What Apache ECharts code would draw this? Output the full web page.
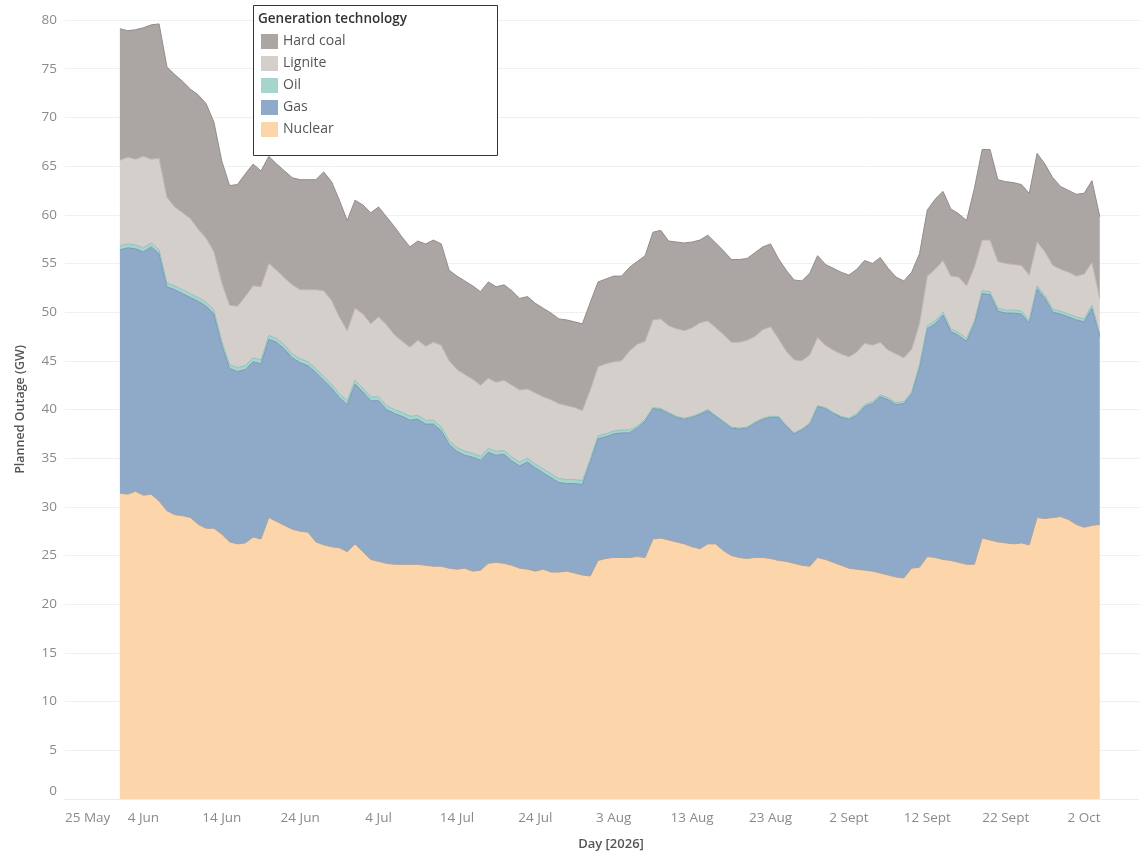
<!DOCTYPE html>
<html>
<head>
<meta charset="utf-8">
<script src="https://cdn.jsdelivr.net/npm/echarts@6/dist/echarts.min.js"></script>
<style>
  html, body { margin: 0; padding: 0; background: #ffffff; }
  #chart { width: 1139px; height: 856px; }
</style>
</head>
<body>
<div id="chart"></div>
<script>
// Axis runs daily from 25 May 2026 (index 0) to 9 Oct 2026 (index 137).
// Data is daily from 1 Jun 2026 (index 7) to 4 Oct 2026.
const axisStart = { year: 2026, month: 4, day: 25 };
const axisDays = 138;
const firstDayIndex = 7;
const monthNames = ['Jan','Feb','Mar','Apr','May','Jun','Jul','Aug','Sept','Oct','Nov','Dec'];
const seriesNames = ['Nuclear', 'Gas', 'Oil', 'Lignite', 'Hard coal'];
const legendOrder = ['Hard coal', 'Lignite', 'Oil', 'Gas', 'Nuclear'];
const yTicks = { min: 0, max: 80, interval: 5 };

const nuclear = [
  31.4,31.3,31.6,31.2,31.3,30.6,29.6,29.2,29.1,28.9,
  28.2,27.8,27.8,27.2,26.4,26.2,26.3,26.9,26.7,28.9,
  28.5,28.1,27.7,27.5,27.4,26.4,26.1,25.9,25.8,25.4,
  26.2,25.4,24.6,24.4,24.2,24.1,24.1,24.1,24.1,24.0,
  23.9,23.9,23.7,23.6,23.7,23.4,23.5,24.2,24.3,24.2,
  24.0,23.7,23.6,23.4,23.6,23.3,23.3,23.4,23.2,23.0,
  22.9,24.5,24.7,24.8,24.8,24.8,24.9,24.8,26.7,26.8,
  26.6,26.4,26.2,25.9,25.7,26.2,26.2,25.5,25.0,24.8,
  24.7,24.8,24.8,24.7,24.5,24.4,24.2,24.0,23.9,24.8,
  24.6,24.3,24.0,23.7,23.6,23.5,23.4,23.2,23.0,22.8,
  22.7,23.7,23.8,24.9,24.8,24.6,24.5,24.3,24.1,24.1,
  26.8,26.6,26.4,26.3,26.2,26.3,26.1,28.9,28.8,28.9,
  29.0,28.7,28.2,27.9,28.1,28.2
];
const gas = [
  25.0,25.3,24.9,25.0,25.4,25.4,23.0,23.1,22.8,22.6,
  22.9,22.8,22.0,19.4,17.8,17.7,17.8,18.0,18.0,18.3,
  18.4,18.1,17.6,17.3,17.1,17.4,16.9,16.3,15.4,15.1,
  16.4,16.4,16.3,16.5,15.8,15.5,15.2,14.8,14.9,14.5,
  14.6,13.9,12.7,12.1,11.6,11.7,11.3,11.4,11.0,11.2,
  10.7,10.5,11.0,10.6,9.9,9.7,9.2,9.0,9.2,9.3,
  11.7,12.5,12.5,12.7,12.8,12.8,13.2,14.0,13.4,13.2,
  13.0,12.8,12.8,13.3,13.8,13.7,13.1,13.2,13.1,13.2,
  13.4,13.8,14.2,14.5,14.7,13.9,13.3,13.9,14.6,15.5,
  15.5,15.3,15.2,15.3,15.8,16.8,17.2,18.1,18.0,17.7,
  17.9,17.9,20.5,23.4,24.0,25.1,23.5,23.3,22.9,24.7,
  25.1,25.2,23.7,23.6,23.7,23.5,22.8,23.5,22.6,21.1,
  20.8,20.8,21.0,21.1,22.3,19.3
];
const oil = [
  0.4,0.4,0.4,0.4,0.4,0.4,0.4,0.4,0.4,0.4,
  0.4,0.4,0.4,0.4,0.4,0.4,0.4,0.4,0.4,0.4,
  0.4,0.4,0.4,0.4,0.4,0.4,0.4,0.4,0.4,0.4,
  0.4,0.4,0.4,0.4,0.4,0.4,0.4,0.4,0.4,0.4,
  0.4,0.4,0.4,0.4,0.4,0.4,0.4,0.4,0.4,0.4,
  0.4,0.4,0.4,0.4,0.4,0.4,0.4,0.4,0.4,0.4,
  0.3,0.3,0.3,0.3,0.3,0.3,0.2,0.2,0.1,0.1,
  0.1,0.1,0.1,0.1,0.1,0.1,0.1,0.1,0.1,0.1,
  0.1,0.1,0.1,0.1,0.1,0.1,0.1,0.1,0.1,0.1,
  0.1,0.1,0.1,0.1,0.2,0.2,0.2,0.2,0.2,0.2,
  0.2,0.2,0.3,0.3,0.3,0.3,0.3,0.3,0.3,0.3,
  0.3,0.3,0.3,0.3,0.3,0.3,0.3,0.3,0.3,0.3,
  0.3,0.3,0.3,0.3,0.3,0.3
];
const lignite = [
  8.8,8.9,8.8,9.4,8.6,9.4,8.8,8.1,7.9,7.7,
  7.0,6.6,6.0,6.0,6.1,6.3,7.1,7.4,7.5,7.4,
  7.0,6.9,7.1,7.1,7.4,8.1,8.8,8.6,7.9,7.2,
  7.4,7.6,7.5,8.2,8.3,7.7,7.3,7.1,7.7,7.6,
  8.0,8.4,8.2,8.0,7.9,7.6,7.3,7.2,7.1,7.2,
  7.4,7.4,7.1,7.3,7.4,7.6,7.7,7.6,7.4,7.2,
  7.1,7.1,7.2,7.1,7.1,8.1,8.4,8.0,9.0,9.2,
  8.9,9.0,9.0,9.1,9.3,9.1,9.0,8.9,8.7,8.8,
  8.9,8.8,9.1,9.2,8.0,7.6,7.5,7.0,7.0,7.0,
  6.4,6.4,6.4,6.3,6.3,6.3,5.8,5.4,4.9,5.0,
  4.5,4.4,4.2,5.1,5.3,5.3,5.4,5.7,5.4,5.5,
  5.2,5.3,4.8,4.8,4.7,4.7,4.6,4.5,4.5,4.5,
  4.3,4.3,4.2,4.6,4.4,3.6
];
const hardCoal = [
  13.5,13.0,13.3,13.2,13.8,13.8,13.4,13.6,13.5,13.3,
  13.8,13.8,13.3,12.5,12.3,12.5,12.6,12.5,11.9,11.0,
  10.9,11.0,11.0,11.3,11.3,11.3,12.2,12.2,12.0,11.3,
  11.1,11.2,11.4,11.3,11.1,11.1,10.7,10.3,10.2,10.5,
  10.5,10.4,9.3,9.6,9.6,9.6,9.6,9.9,9.8,9.8,
  9.7,9.4,9.5,9.2,9.1,8.9,8.7,8.8,8.8,8.9,
  9.0,8.7,8.7,8.8,8.7,8.6,8.5,8.8,9.0,9.1,
  8.7,8.9,9.0,8.8,8.5,8.8,8.7,8.6,8.5,8.5,
  8.4,8.6,8.5,8.5,8.2,8.3,8.2,8.2,8.4,8.4,
  8.3,8.4,8.4,8.4,8.5,8.5,8.4,8.7,8.4,7.9,
  7.9,7.9,7.2,6.8,7.2,7.1,6.9,6.5,6.7,8.1,
  9.3,9.3,8.4,8.4,8.4,8.3,8.4,9.1,9.0,9.0,
  8.5,8.4,8.4,8.3,8.4,8.4
];

const values = { 'Nuclear': nuclear, 'Gas': gas, 'Oil': oil, 'Lignite': lignite, 'Hard coal': hardCoal };
const fills = { 'Nuclear': '#fdd5ab', 'Gas': '#8eaac8', 'Oil': '#a6d5cf', 'Lignite': '#d5cfcc', 'Hard coal': '#aba5a3' };
const edges = { 'Nuclear': '#aaa39e', 'Gas': '#7e96b3', 'Oil': '#8cc3bd', 'Lignite': '#bdb5b2', 'Hard coal': '#938c8a' };

// category labels: one per day along the axis
const dayCategories = [];
for (let i = 0; i < axisDays; i++) {
  const d = new Date(axisStart.year, axisStart.month, axisStart.day + i);
  dayCategories.push(d.getDate() + ' ' + monthNames[d.getMonth()]);
}

function padToAxis(arr) {
  const out = new Array(axisDays).fill(null);
  arr.forEach((v, i) => { out[firstDayIndex + i] = v; });
  return out;
}

const series = seriesNames.map(name => ({
  name: name,
  type: 'line',
  stack: 'total',
  showSymbol: false,
  symbol: 'none',
  smooth: false,
  connectNulls: false,
  data: padToAxis(values[name]),
  lineStyle: { width: 1, color: edges[name] },
  areaStyle: { color: fills[name], opacity: 1 },
  itemStyle: { color: fills[name] },
  emphasis: { disabled: true }
}));

const FONT = 'Open Sans, Noto Sans, sans-serif';
const chart = echarts.init(document.getElementById('chart'), null, { renderer: 'canvas' });
chart.setOption({
  animation: false,
  backgroundColor: '#ffffff',
  textStyle: { fontFamily: FONT },
  grid: { left: 65, right: 0, top: 20, bottom: 54, containLabel: false },
  xAxis: {
    type: 'category',
    data: dayCategories,
    boundaryGap: false,
    name: 'Day [2026]',
    nameLocation: 'middle',
    nameGap: 39,
    nameTextStyle: { color: '#555', fontSize: 13, fontWeight: 600, padding: [0, 0, 0, 18] },
    axisLine: { show: true, lineStyle: { color: '#ececec' } },
    axisTick: { show: false },
    splitLine: { show: false },
    axisLabel: {
      color: '#8a8a8a',
      fontSize: 13.5,
      margin: 12,
      interval: (index) => index % 10 === 0,
      alignMinLabel: 'left'
    }
  },
  yAxis: {
    type: 'value',
    min: yTicks.min,
    max: yTicks.max,
    interval: yTicks.interval,
    name: 'Planned Outage (GW)',
    nameLocation: 'middle',
    nameGap: 38,
    nameRotate: 90,
    nameTextStyle: { color: '#555', fontSize: 12.5, fontWeight: 600 },
    axisLine: { show: false },
    axisTick: { show: false },
    splitLine: { show: true, lineStyle: { color: '#f0f0f0', width: 1 } },
    axisLabel: {
      color: '#8a8a8a',
      fontSize: 13.5,
      margin: 8,
      formatter: (v) => (v === 0 ? '{zero|0}' : String(v)),
      rich: { zero: { color: '#8a8a8a', fontSize: 13.5, padding: [0, 0, 16, 0] } }
    }
  },
  legend: {
    data: legendOrder,
    orient: 'vertical',
    left: 261,
    top: 34,
    icon: 'rect',
    itemWidth: 17,
    itemHeight: 15,
    itemGap: 7,
    padding: 0,
    z: 20,
    selectedMode: false,
    textStyle: { color: '#555', fontSize: 14 }
  },
  graphic: [
    {
      type: 'rect',
      left: 253,
      top: 5,
      shape: { width: 244, height: 150 },
      style: { fill: '#ffffff', stroke: '#333', lineWidth: 1 },
      z: 1
    },
    {
      type: 'text',
      left: 258,
      top: 12,
      style: { text: 'Generation technology', fill: '#333', font: '600 13.5px "Open Sans", sans-serif' },
      z: 21
    }
  ],
  series: series
});
</script>
</body>
</html>
